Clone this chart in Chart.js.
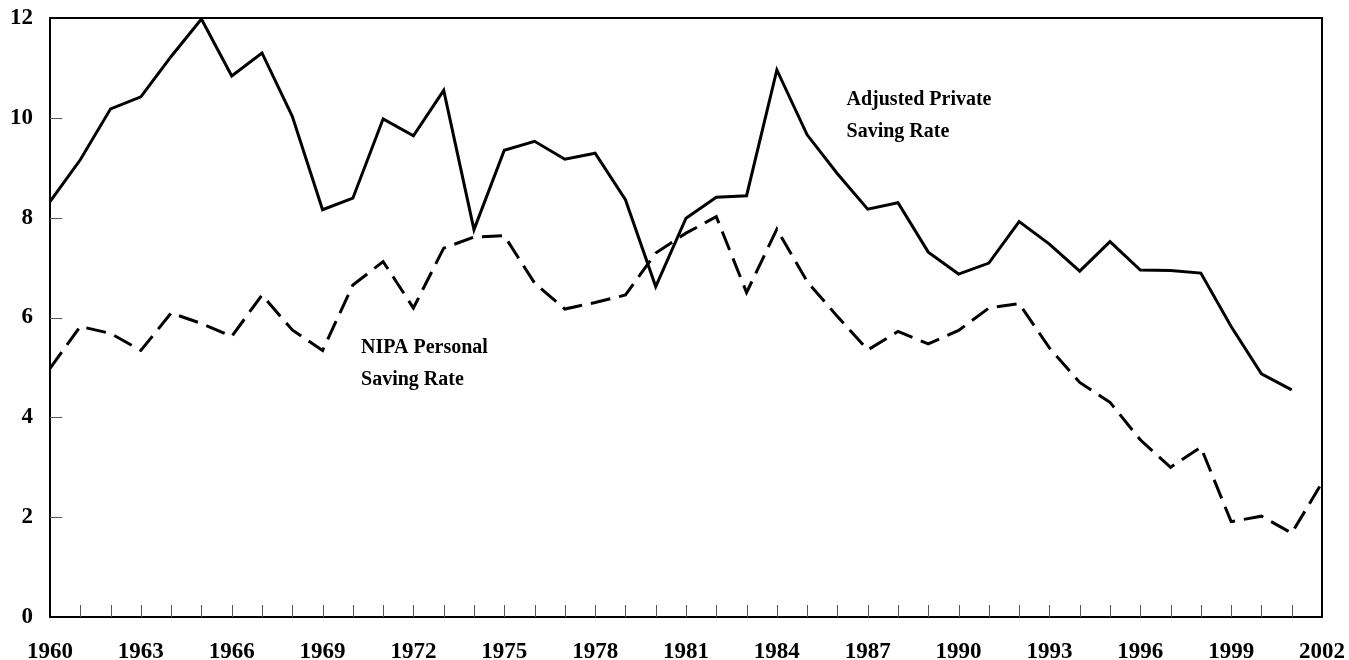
<!DOCTYPE html>
<html>
<head>
<meta charset="utf-8">
<script src="https://cdn.jsdelivr.net/npm/chart.js@4.4.1/dist/chart.umd.min.js"></script>
<style>
  html, body { margin: 0; padding: 0; background: #fff; }
</style>
</head>
<body>
<canvas id="savingChart" width="1349" height="660"></canvas>
<script>
// saving rates, percent
const years = ['1960', '1961', '1962', '1963', '1964', '1965', '1966', '1967', '1968', '1969',
    '1970', '1971', '1972', '1973', '1974', '1975', '1976', '1977', '1978', '1979',
    '1980', '1981', '1982', '1983', '1984', '1985', '1986', '1987', '1988', '1989',
    '1990', '1991', '1992', '1993', '1994', '1995', '1996', '1997', '1998', '1999',
    '2000', '2001', '2002'];

const adjustedPrivate = [8.32, 9.16, 10.18, 10.42, 11.23, 11.98, 10.84, 11.30, 10.03, 8.16,
    8.39, 9.98, 9.64, 10.55, 7.76, 9.35, 9.53, 9.17, 9.29, 8.36,
    6.62, 7.99, 8.41, 8.44, 10.96, 9.66, 8.88, 8.17, 8.30, 7.31,
    6.87, 7.09, 7.92, 7.47, 6.93, 7.52, 6.95, 6.94, 6.89, 5.82,
    4.87, 4.55, null];

const nipaPersonal = [4.98, 5.82, 5.68, 5.34, 6.09, 5.88, 5.62, 6.45, 5.75, 5.34,
    6.65, 7.12, 6.19, 7.39, 7.61, 7.64, 6.69, 6.17, 6.30, 6.45,
    7.29, 7.69, 8.02, 6.50, 7.77, 6.72, 6.02, 5.35, 5.72, 5.47,
    5.74, 6.19, 6.28, 5.39, 4.70, 4.30, 3.55, 3.00, 3.40, 1.91,
    2.02, 1.68, 2.69];

const yTicks = [0, 2, 4, 6, 8, 10, 12];

// text labels placed in data space (year index, value of first baseline)
const seriesLabels = [
    { lines: ['Adjusted Private', 'Saving Rate'], at: [26.3, 10.26] },
    { lines: ['NIPA Personal', 'Saving Rate'], at: [10.27, 5.29] }
];

const serif = "'Liberation Serif', 'Times New Roman', serif";

// inward tick marks, top/right frame and the series labels
const frameAndTicks = {
    id: 'frameAndTicks',
    afterDatasetsDraw(chart) {
        const { ctx, chartArea: a, scales: { x, y } } = chart;
        ctx.save();
        ctx.strokeStyle = '#555';
        ctx.lineWidth = 1;
        ctx.beginPath();
        years.forEach((yr, i) => {
            if (i === 0 || i === years.length - 1) return;
            const px = Math.round(x.getPixelForValue(i)) + 0.5;
            ctx.moveTo(px, a.bottom);
            ctx.lineTo(px, a.bottom - 12);
        });
        yTicks.forEach(v => {
            if (v === yTicks[0] || v === yTicks[yTicks.length - 1]) return;
            const py = Math.round(y.getPixelForValue(v)) + 0.5;
            ctx.moveTo(a.left, py);
            ctx.lineTo(a.left + 12, py);
        });
        ctx.stroke();

        ctx.strokeStyle = '#000';
        ctx.lineWidth = 2;
        ctx.beginPath();
        ctx.moveTo(a.left, a.top);
        ctx.lineTo(a.right, a.top);
        ctx.lineTo(a.right, a.bottom);
        ctx.stroke();

        ctx.fillStyle = '#000';
        ctx.font = 'bold 20px ' + serif;
        ctx.textAlign = 'left';
        ctx.textBaseline = 'alphabetic';
        seriesLabels.forEach(lbl => {
            const px = x.getPixelForValue(lbl.at[0]);
            const py = y.getPixelForValue(lbl.at[1]);
            lbl.lines.forEach((line, k) => ctx.fillText(line, px, py + k * 32));
        });
        ctx.restore();
    }
};

const ctx = document.getElementById('savingChart').getContext('2d');
new Chart(ctx, {
    type: 'line',
    data: {
        labels: years,
        datasets: [{
            label: 'Adjusted Private Saving Rate',
            data: adjustedPrivate,
            borderColor: '#000',
            borderWidth: 3,
            pointRadius: 0,
            borderJoinStyle: 'miter',
            tension: 0
        }, {
            label: 'NIPA Personal Saving Rate',
            data: nipaPersonal,
            borderColor: '#000',
            borderWidth: 3,
            borderDash: [20, 9],
            pointRadius: 0,
            borderJoinStyle: 'miter',
            tension: 0
        }]
    },
    options: {
        responsive: false,
        animation: false,
        devicePixelRatio: 1,
        layout: { padding: { top: 18, right: 27, left: 0, bottom: 0 } },
        plugins: {
            legend: { display: false },
            tooltip: { enabled: false }
        },
        scales: {
            x: {
                type: 'category',
                offset: false,
                grid: { display: false, drawTicks: false },
                border: { display: true, color: '#000', width: 2 },
                ticks: {
                    autoSkip: false,
                    maxRotation: 0,
                    padding: 21,
                    color: '#000',
                    font: { family: serif, size: 23, weight: 'bold' },
                    callback: (val, i) => (i % 3 === 0 ? years[i] : '')
                },
                afterFit: s => {
                    s.height = 43;
                    s.paddingLeft = 0;
                    s.paddingRight = 0;
                }
            },
            y: {
                min: 0,
                max: 12,
                grid: { display: false, drawTicks: false },
                border: { display: true, color: '#000', width: 2 },
                ticks: {
                    stepSize: 2,
                    padding: 17,
                    color: '#000',
                    font: { family: serif, size: 23, weight: 'bold' }
                },
                afterFit: s => {
                    s.width = 50;
                    s.paddingTop = 0;
                    s.paddingBottom = 0;
                }
            }
        }
    },
    plugins: [frameAndTicks]
});
</script>
</body>
</html>
